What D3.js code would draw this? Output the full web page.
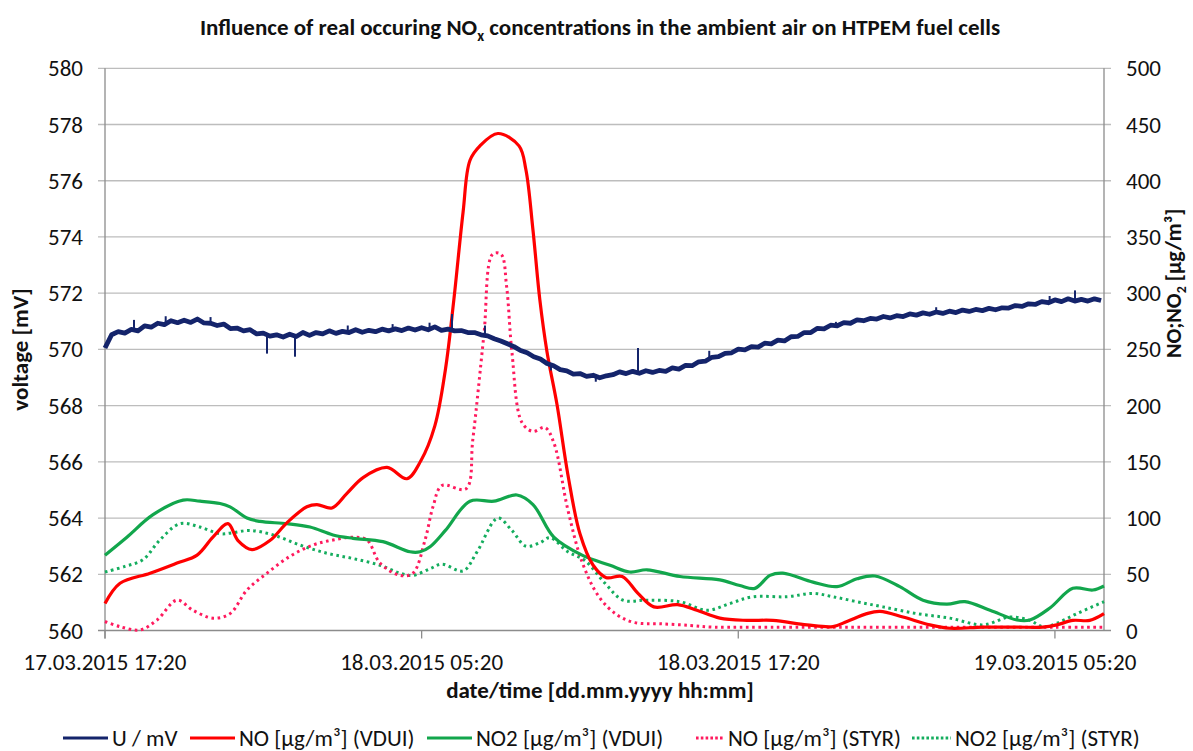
<!DOCTYPE html>
<html><head><meta charset="utf-8">
<script src="https://cdn.jsdelivr.net/npm/d3@7"></script>
<style>
body{margin:0;background:#fff;}
svg{display:block;font-family:Carlito,Lato,"Open Sans",sans-serif;}
</style></head>
<body><svg id="c" width="1193" height="751"></svg>
<script>
// ---------- data ----------
const startTime = new Date(2015, 2, 17, 17, 20);
const endHours = 37.86;
const xTickHours = [0, 12, 24, 36];
const leftTicks = [560, 562, 564, 566, 568, 570, 572, 574, 576, 578, 580];
const rightTicks = [0, 50, 100, 150, 200, 250, 300, 350, 400, 450, 500];

// voltage U / mV, sampled every 0.25 h
const uStepHours = 0.25;
const uValues = [
570.05,570.52,570.63,570.58,570.71,570.66,570.84,570.79,570.93,570.88,571.02,570.95,
571.04,570.96,571.08,570.94,570.93,570.85,570.90,570.74,570.76,570.66,570.70,570.55,
570.58,570.47,570.52,570.44,570.54,570.46,570.60,570.50,570.60,570.55,570.66,570.57,
570.64,570.60,570.70,570.61,570.68,570.63,570.72,570.66,570.73,570.67,570.76,570.69,
570.77,570.70,570.80,570.68,570.72,570.66,570.67,570.60,570.60,570.52,570.48,570.38,
570.30,570.20,570.10,569.96,569.88,569.74,569.66,569.50,569.42,569.28,569.24,569.12,
569.14,569.04,569.08,568.99,569.06,569.10,569.20,569.14,569.22,569.15,569.24,569.18,
569.25,569.22,569.34,569.30,569.43,569.42,569.56,569.58,569.72,569.74,569.86,569.88,
570.01,569.98,570.10,570.08,570.22,570.20,570.33,570.30,570.45,570.46,570.60,570.60,
570.75,570.73,570.86,570.84,570.95,570.93,571.05,571.02,571.10,571.08,571.17,571.12,
571.20,571.17,571.26,571.22,571.30,571.25,571.33,571.28,571.36,571.31,571.40,571.35,
571.42,571.38,571.46,571.41,571.48,571.47,571.56,571.53,571.62,571.60,571.70,571.66,
571.76,571.70,571.80,571.72,571.78,571.72,571.80,571.74];
const uSpikeHours = [1.1, 2.3, 4.0, 6.14, 7.2, 9.2, 10.9, 12.3, 13.15, 14.4, 16.9, 18.6, 20.2, 22.9, 27.7, 31.5, 35.8, 36.76];
const uSpikeValues = [571.05, 571.18, 571.15, 569.85, 569.74, 570.85, 570.9, 570.95, 571.26, 570.85, 569.25, 568.85, 570.05, 569.95, 570.98, 571.5, 571.9, 572.1];

// NO [µg/m³] (VDUI)
const noVduiHours = [0,0.57,1.71,2.73,3.49,4.09,4.66,5.04,5.57,6.25,6.9,7.65,8.03,8.6,9.17,9.78,10.69,11.44,11.97,12.5,12.9,13.22,13.57,13.83,14.21,14.89,15.69,15.95,16.22,16.48,16.75,17.13,17.54,18.0,18.5,19.0,19.6,20.2,20.8,21.7,22.43,23.3,24.33,25.31,26.6,27.59,28.12,28.87,29.37,30.24,31.26,32.02,33.27,34.56,35.54,36.07,36.68,37.32,37.86];
const noVduiValues = [24,42,51,60,67,83,95,80,72,80,96,110,112,109,122,136,145,135,151,182,232,294,372,418,431,442,431,410,356,294,248,201,139,86,58,47,48,33,21,23,18,11,9,9,5,3.5,8,15,17,12,5,2,3,3,3,5,9,9,15];

// NO2 [µg/m³] (VDUI)
const no2VduiHours = [0,0.83,1.82,2.96,3.6,4.36,4.74,5.38,5.87,6.9,7.77,8.64,9.4,10.53,11.56,11.94,12.32,12.9,13.83,14.74,15.61,16.22,17.01,18.08,19.14,19.89,20.54,21.79,23.3,24.06,24.63,25.2,25.69,26.83,27.74,28.5,29.18,30.12,31.0,31.9,32.59,33.54,34.56,35.05,35.81,36.68,37.44,37.86];
const no2VduiValues = [67,83,103,116,115,113,110,100,97,95,92,85,82,79,70,70,74.5,89,115,115,120.5,112,83,67,58,52,54,48,45,40,37.5,49,51,43,39,46,48.5,39,27,23.5,25.6,18,9.3,9.3,20,37.5,36,39.6];

// NO [µg/m³] (STYR)
const noStyrHours = [0,0.57,1.33,1.97,2.73,3.33,4.09,4.74,5.38,6.14,7.01,7.88,8.64,9.4,9.93,10.42,11.18,11.67,12.13,12.43,12.77,13.68,13.94,14.36,14.69,15.01,15.22,15.42,15.8,16.22,16.67,17.01,17.54,18.08,18.72,19.4,20.08,21.03,22.17,23.04,24.44,28.0,32.0,36.0,37.86];
const noStyrValues = [8,3.4,0.5,9.3,27,18,11,15,36,51,66,76,80.5,83,80.5,60,49,51,80.5,110,129,126,170,263,334.6,334.6,306,248,185,177,180.6,167,107.5,61,30,14,7,6,4.5,3,3,3,3,3,3];

// NO2 [µg/m³] (STYR)
const no2StyrHours = [0,0.76,1.44,2.08,2.84,3.6,4.36,4.85,5.49,6.37,7.39,8.41,9.4,10.42,11.18,11.67,12.32,12.77,13.57,14.1,14.89,15.42,15.95,16.48,16.86,17.54,18.2,18.95,19.63,20.54,21.79,22.81,23.68,24.55,25.84,26.83,27.59,28.5,29.48,30.77,32.02,33.27,34.29,35.05,35.54,36.07,36.83,37.86];
const no2StyrValues = [52,57,63,80.5,95,92,86,87,89,85,76,68.7,64,58,51,49,55,59,53,70,100,89,75,78,82.6,70,62,42,27,27,25.6,18,24,30,30,33,30,25.6,21,15,11,5,12,9,3.4,6.4,15,25.6];

const legendLabels = ["U / mV","NO [µg/m³] (VDUI)","NO2 [µg/m³] (VDUI)","NO [µg/m³] (STYR)","NO2 [µg/m³] (STYR)"];

// ---------- chart ----------
const svg = d3.select("#c");
const L = 105, R = 1104, T = 68.3, B = 630.5;
const hToDate = h => new Date(startTime.getTime() + h * 3600e3);
const x = d3.scaleTime().domain([startTime, hToDate(endHours)]).range([L, R]);
const yL = d3.scaleLinear().domain([560, 580]).range([B, T]);
const yR = d3.scaleLinear().domain([0, 500]).range([B, T]);

const C = {u:"#14246b", noV:"#ff0000", no2V:"#12a64c", noS:"#ff1a5e", no2S:"#14ad5e"};
const gridC = "#bdbdbd", axisC = "#8c8c8c";

// gridlines
svg.append("g").selectAll("line").data(leftTicks).join("line")
  .attr("x1", L - 7).attr("x2", R + 7)
  .attr("y1", d => yL(d)).attr("y2", d => yL(d))
  .attr("stroke", d => d === 560 ? axisC : gridC).attr("stroke-width", 1.3);

// axis lines
svg.append("line").attr("x1", L).attr("x2", L).attr("y1", T).attr("y2", B + 8).attr("stroke", axisC).attr("stroke-width", 1.3);
svg.append("line").attr("x1", R).attr("x2", R).attr("y1", T).attr("y2", B).attr("stroke", axisC).attr("stroke-width", 1.3);
svg.append("g").selectAll("line").data(xTickHours).join("line")
  .attr("x1", d => x(hToDate(d))).attr("x2", d => x(hToDate(d)))
  .attr("y1", B).attr("y2", B + 8).attr("stroke", axisC).attr("stroke-width", 1.3);

// tick labels
const tickFont = 23;
svg.append("g").selectAll("text").data(leftTicks).join("text")
  .attr("x", 83).attr("y", d => yL(d)).attr("dy", "0.35em")
  .attr("text-anchor", "end").attr("font-size", tickFont).attr("fill", "#111").text(d => d);
svg.append("g").selectAll("text").data(rightTicks).join("text")
  .attr("x", 1126).attr("y", d => yR(d)).attr("dy", "0.35em")
  .attr("text-anchor", "start").attr("font-size", tickFont).attr("fill", "#111").text(d => d);
const fmt = d3.timeFormat("%d.%m.%Y %H:%M");
svg.append("g").selectAll("text").data(xTickHours).join("text")
  .attr("x", d => x(hToDate(d))).attr("y", 662).attr("dy", "0.35em")
  .attr("text-anchor", "middle").attr("font-size", tickFont).attr("fill", "#111").text(d => fmt(hToDate(d)));

// titles
const title = svg.append("text").attr("x", 600).attr("y", 35).attr("text-anchor", "middle")
  .attr("font-size", 23).attr("font-weight", "bold").attr("fill", "#111");
title.append("tspan").text("Influence of real occuring NO");
title.append("tspan").attr("font-size", 15).attr("dy", 6).text("x");
title.append("tspan").attr("dy", -6).text(" concentrations in the ambient air on HTPEM  fuel cells");

svg.append("text").attr("x", 600).attr("y", 698).attr("text-anchor", "middle")
  .attr("font-size", 23).attr("font-weight", "bold").attr("fill", "#111")
  .text("date/time [dd.mm.yyyy hh:mm]");
svg.append("text").attr("transform", `translate(28,${(T + B) / 2}) rotate(-90)`)
  .attr("text-anchor", "middle").attr("font-size", 23).attr("font-weight", "bold").attr("fill", "#111")
  .text("voltage [mV]");
const rt = svg.append("text").attr("transform", `translate(1181,${(T + B) / 2 - 66}) rotate(-90)`)
  .attr("text-anchor", "middle").attr("font-size", 22).attr("font-weight", "bold").attr("fill", "#111");
rt.append("tspan").text("NO;NO");
rt.append("tspan").attr("font-size", 14).attr("dy", 5).text("2");
rt.append("tspan").attr("dy", -5).text(" [µg/m³]");

// series
const smooth = d3.line().curve(d3.curveCatmullRom.alpha(0.5));
function drawSmooth(hours, vals, color, dotted) {
  const pts = hours.map((h, i) => [x(hToDate(h)), yR(vals[i])]);
  const p = svg.append("path").attr("d", smooth(pts)).attr("fill", "none")
    .attr("stroke", color).attr("stroke-width", dotted ? 3 : 3.2)
    .attr("stroke-linejoin", "round");
  if (dotted) p.attr("stroke-dasharray", "2.6,3.6");
  return p;
}
drawSmooth(no2StyrHours, no2StyrValues, C.no2S, true);
drawSmooth(noStyrHours, noStyrValues, C.noS, true);
drawSmooth(no2VduiHours, no2VduiValues, C.no2V, false);
drawSmooth(noVduiHours, noVduiValues, C.noV, false);

// voltage
const uPts = uValues.map((v, i) => [x(hToDate(i * uStepHours)), yL(v)]);
svg.append("path").attr("d", d3.line()(uPts)).attr("fill", "none")
  .attr("stroke", C.u).attr("stroke-width", 4.8).attr("stroke-linejoin", "round");
const uAt = h => { const i = Math.min(uValues.length - 1, Math.round(h / uStepHours)); return uValues[i]; };
svg.append("g").selectAll("line").data(uSpikeHours).join("line")
  .attr("x1", d => x(hToDate(d))).attr("x2", d => x(hToDate(d)))
  .attr("y1", d => yL(uAt(d))).attr("y2", (d, i) => yL(uSpikeValues[i]))
  .attr("stroke", C.u).attr("stroke-width", 2);

// legend
const legItems = [
  {c: C.u, dot: false, x0: 63, x1: 108},
  {c: C.noV, dot: false, x0: 190, x1: 235},
  {c: C.no2V, dot: false, x0: 427, x1: 472},
  {c: C.noS, dot: true, x0: 696, x1: 724},
  {c: C.no2S, dot: true, x0: 912, x1: 951}
];
const ly = 738;
const lg = svg.append("g").selectAll("g").data(legItems).join("g");
lg.append("line").attr("x1", d => d.x0).attr("x2", d => d.x1).attr("y1", ly).attr("y2", ly)
  .attr("stroke", d => d.c).attr("stroke-width", 3)
  .attr("stroke-dasharray", d => d.dot ? "2.6,2.2" : null);
lg.append("text").attr("x", d => d.x1 + 4).attr("y", ly).attr("dy", "0.35em")
  .attr("font-size", 23).attr("fill", "#111").text((d, i) => legendLabels[i]);
</script></body></html>
